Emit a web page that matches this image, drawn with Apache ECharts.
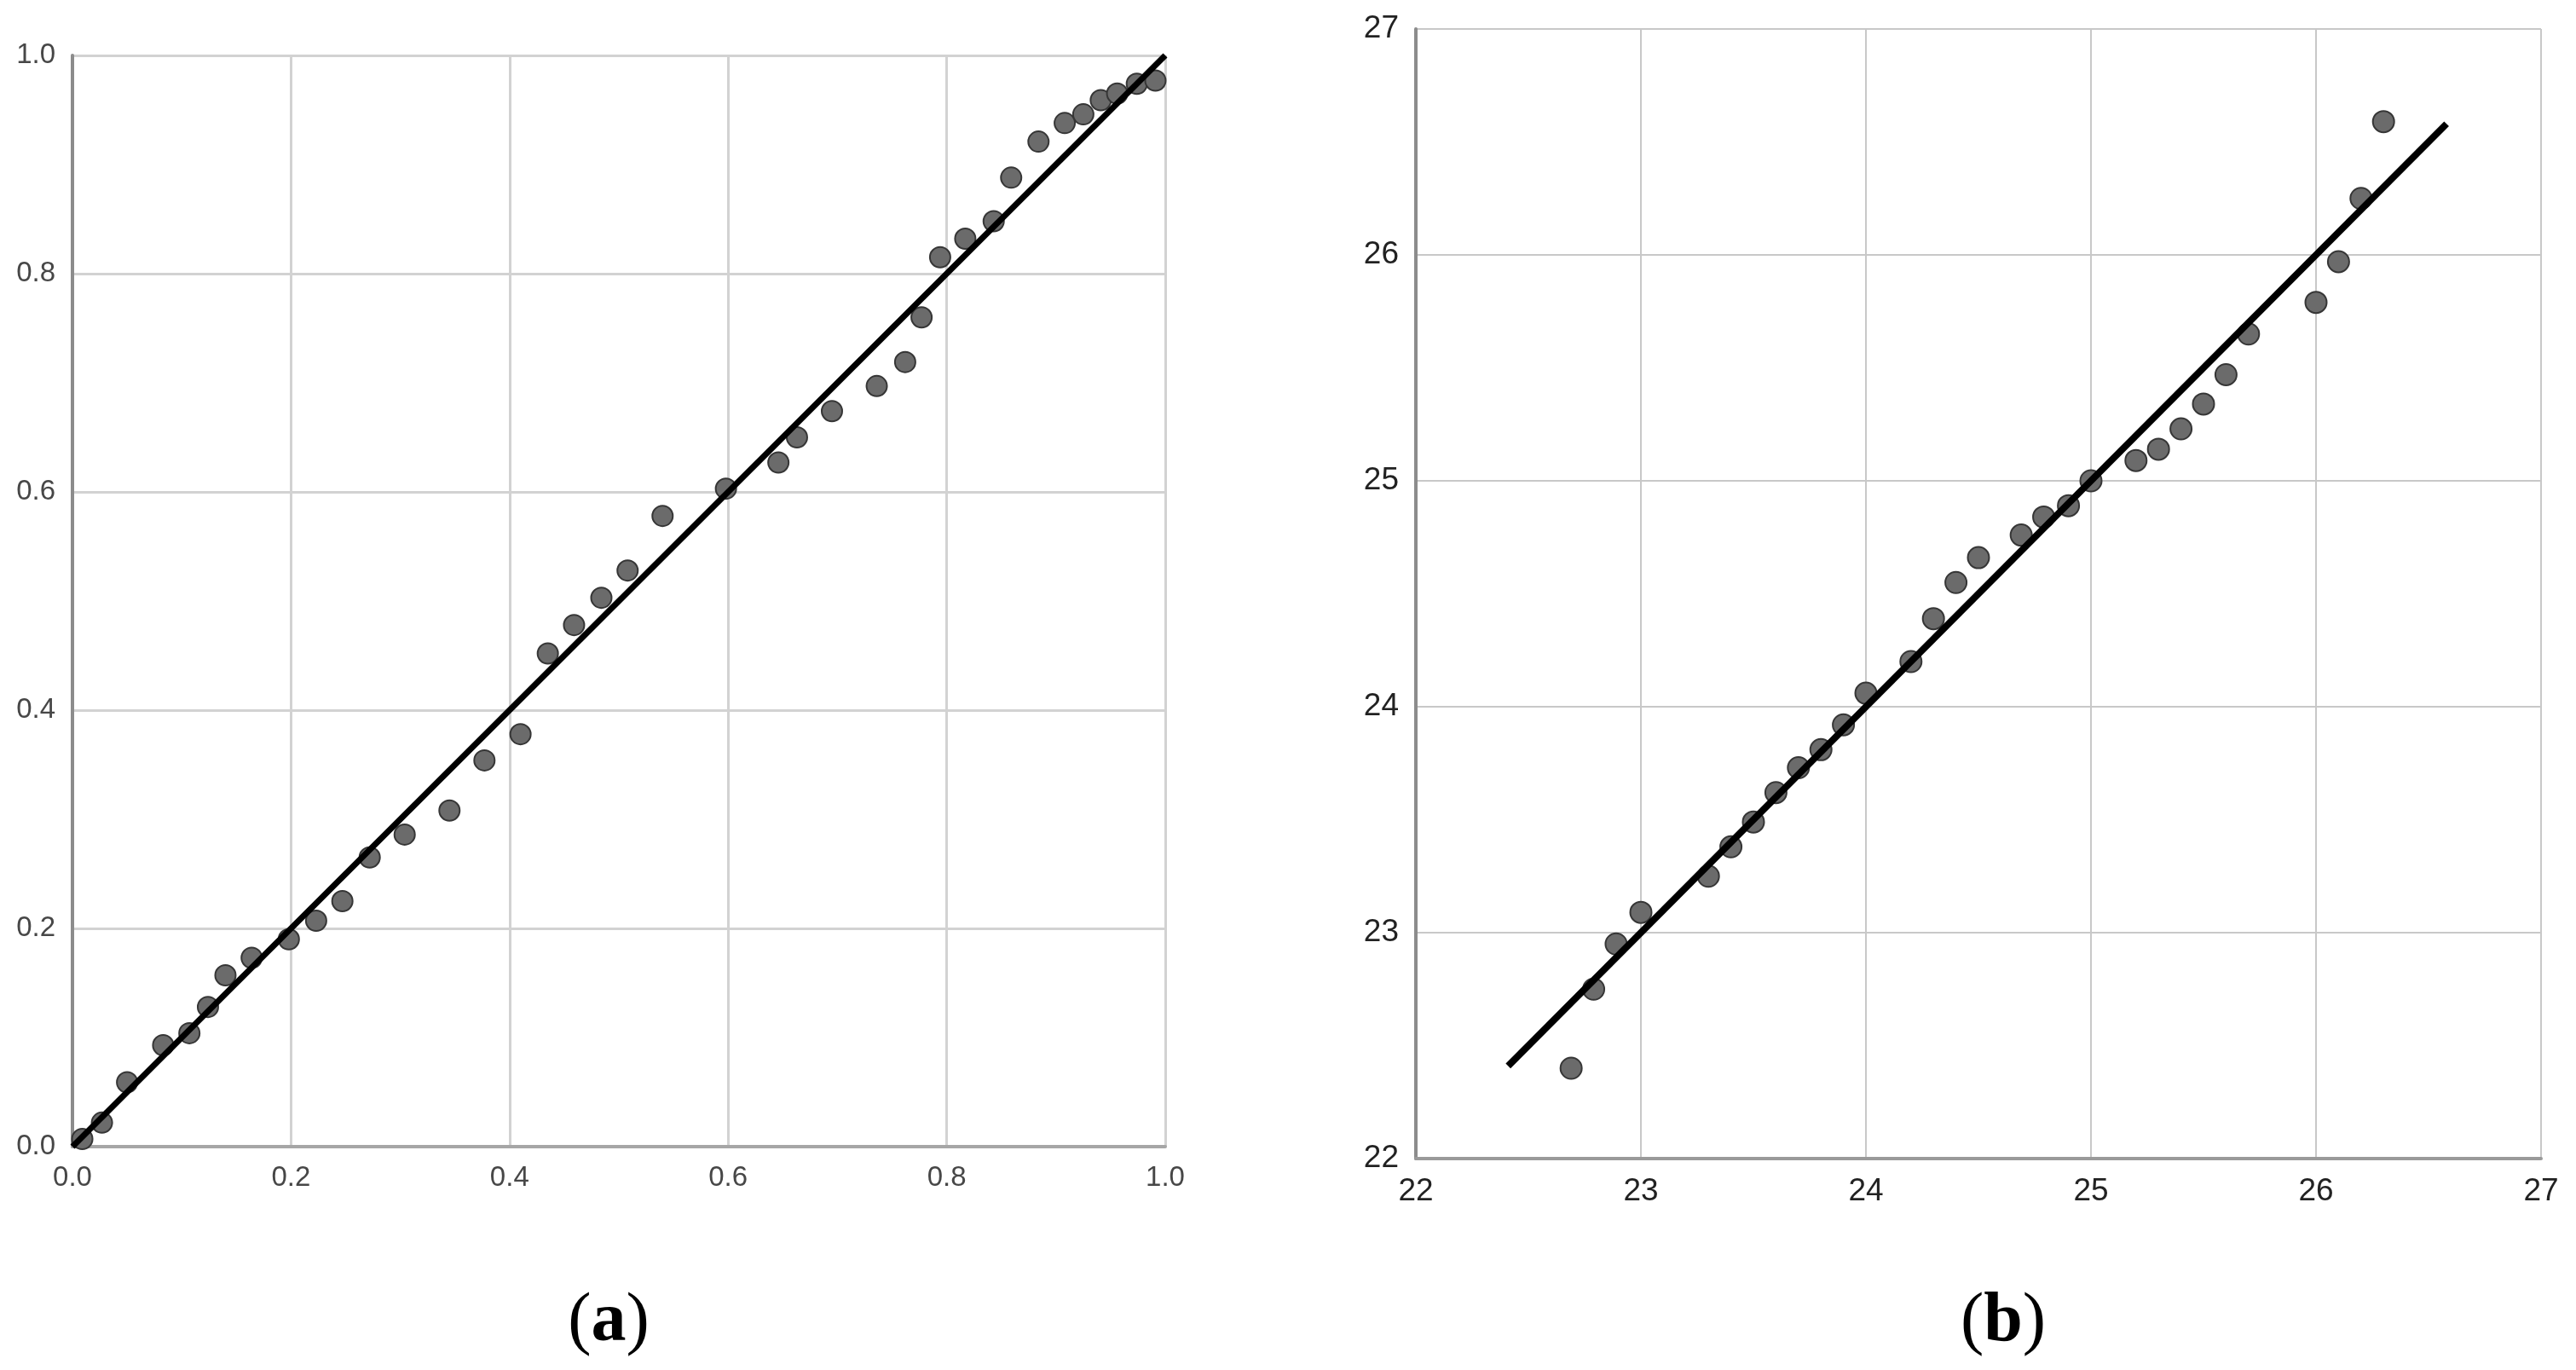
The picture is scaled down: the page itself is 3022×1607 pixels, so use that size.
<!DOCTYPE html>
<html>
<head>
<meta charset="utf-8">
<title>P-P / Q-Q plots</title>
<script src="https://cdn.jsdelivr.net/npm/echarts@6.0.0/dist/echarts.min.js"></script>
<style>
  html, body { margin: 0; padding: 0; background: #fff; }
  #chart { width: 3022px; height: 1607px; }
</style>
</head>
<body>
<div id="chart"></div>
<script>
// panel (a): observed cum prob (x) vs expected cum prob (y)
var aObserved = [0.009, 0.027, 0.050, 0.083, 0.107, 0.124, 0.140, 0.164, 0.198, 0.223,
                 0.247, 0.272, 0.304, 0.345, 0.377, 0.410, 0.435, 0.459, 0.484, 0.508,
                 0.540, 0.598, 0.646, 0.663, 0.695, 0.736, 0.762, 0.777, 0.794, 0.817,
                 0.843, 0.859, 0.884, 0.908, 0.925, 0.941, 0.956, 0.974, 0.991];
var aExpected = [0.007, 0.022, 0.059, 0.093, 0.104, 0.128, 0.157, 0.173, 0.190, 0.207,
                 0.225, 0.265, 0.286, 0.308, 0.354, 0.378, 0.452, 0.478, 0.503, 0.528,
                 0.578, 0.603, 0.627, 0.650, 0.674, 0.697, 0.719, 0.760, 0.815, 0.832,
                 0.848, 0.888, 0.921, 0.938, 0.946, 0.959, 0.965, 0.974, 0.977];
var aLine = [0, 1];

// panel (b): observed value (x) vs expected value (y)
var bObserved = [22.69, 22.79, 22.89, 23.00, 23.30, 23.40, 23.50, 23.60, 23.70, 23.80,
                 23.90, 24.00, 24.20, 24.30, 24.40, 24.50, 24.69, 24.79, 24.90, 25.00,
                 25.20, 25.30, 25.40, 25.50, 25.60, 25.70, 26.00, 26.10, 26.20, 26.30];
var bExpected = [22.40, 22.75, 22.95, 23.09, 23.25, 23.38, 23.49, 23.62, 23.73, 23.81,
                 23.92, 24.06, 24.20, 24.39, 24.55, 24.66, 24.76, 24.84, 24.89, 25.00,
                 25.09, 25.14, 25.23, 25.34, 25.47, 25.65, 25.79, 25.97, 26.25, 26.59];
var bLine = [22.41, 26.58];

var aTicks = [0, 0.2, 0.4, 0.6, 0.8, 1.0];
var bTicks = [22, 23, 24, 25, 26, 27];
var captions = ['a', 'b'];

function pairs(xs, ys) {
    var out = [];
    for (var i = 0; i < xs.length; i++) out.push([xs[i], ys[i]]);
    return out;
}

function valueAxis(idx, ticks, digits, lineColor, splitColor, splitWidth, fontSize, labelColor) {
    return {
        type: 'value',
        gridIndex: idx,
        min: ticks[0],
        max: ticks[ticks.length - 1],
        interval: ticks[1] - ticks[0],
        axisLine: { show: true, onZero: false, lineStyle: { color: lineColor, width: 4 } },
        axisTick: { show: false },
        splitLine: { show: true, lineStyle: { color: splitColor, width: splitWidth } },
        axisLabel: {
            fontFamily: 'Liberation Sans',
            fontSize: fontSize,
            color: labelColor,
            margin: 20,
            formatter: function (v) { return v.toFixed(digits); }
        }
    };
}

var pointStyle = { color: '#6b6b6b', borderColor: '#363636', borderWidth: 2, opacity: 1 };

var chart = echarts.init(document.getElementById('chart'), null, { renderer: 'canvas' });

chart.setOption({
    backgroundColor: '#ffffff',
    animation: false,
    grid: [
        { left: 85, top: 65, width: 1282, height: 1280 },
        { left: 1661, top: 34, width: 1320, height: 1325 }
    ],
    xAxis: [
        valueAxis(0, aTicks, 1, '#a6a6a6', '#d2d2d2', 3, 33, '#474747'),
        valueAxis(1, bTicks, 0, '#9a9a9a', '#c8c8c8', 2, 37, '#222222')
    ],
    yAxis: [
        valueAxis(0, aTicks, 1, '#8c8c8c', '#d2d2d2', 3, 33, '#474747'),
        valueAxis(1, bTicks, 0, '#8c8c8c', '#c8c8c8', 2, 37, '#222222')
    ],
    series: [
        {
            type: 'scatter', xAxisIndex: 0, yAxisIndex: 0,
            data: pairs(aObserved, aExpected),
            symbolSize: 24, itemStyle: pointStyle, z: 2
        },
        {
            type: 'line', xAxisIndex: 0, yAxisIndex: 0,
            data: pairs(aLine, aLine),
            symbol: 'none', lineStyle: { color: '#000', width: 7 }, z: 3
        },
        {
            type: 'scatter', xAxisIndex: 1, yAxisIndex: 1,
            data: pairs(bObserved, bExpected),
            symbolSize: 25, itemStyle: pointStyle, z: 2
        },
        {
            type: 'line', xAxisIndex: 1, yAxisIndex: 1,
            data: pairs(bLine, bLine),
            symbol: 'none', lineStyle: { color: '#000', width: 8 }, z: 3
        }
    ],
    graphic: [
        {
            type: 'text', x: 714, y: 1551,
            style: {
                text: '{p|(}{l|' + captions[0] + '}{p|)}',
                align: 'center', verticalAlign: 'middle',
                rich: {
                    p: { fontFamily: 'Liberation Serif', fontSize: 82, fill: '#000' },
                    l: { fontFamily: 'Liberation Serif', fontSize: 82, fontWeight: 'bold', fill: '#000' }
                }
            }
        },
        {
            type: 'text', x: 2350, y: 1551,
            style: {
                text: '{p|(}{l|' + captions[1] + '}{p|)}',
                align: 'center', verticalAlign: 'middle',
                rich: {
                    p: { fontFamily: 'Liberation Serif', fontSize: 82, fill: '#000' },
                    l: { fontFamily: 'Liberation Serif', fontSize: 82, fontWeight: 'bold', fill: '#000' }
                }
            }
        }
    ]
});
</script>
</body>
</html>
